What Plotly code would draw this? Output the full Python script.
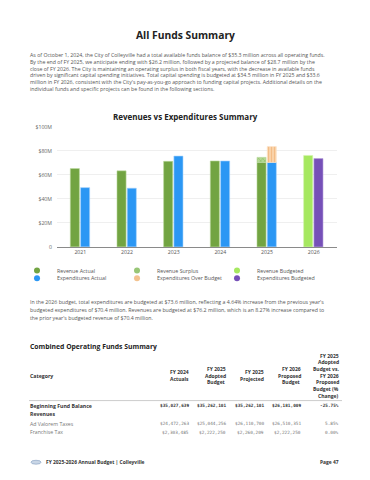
import plotly.graph_objects as go

W, H = 370, 480

# ---------------- data ----------------
years = ["2021", "2022", "2023", "2024", "2025", "2026"]
revenue_actual = [65.3, 63.4, 71.3, 71.6, 70.4, None]
revenue_surplus = [None, None, None, None, 4.2, None]
revenue_budgeted = [None, None, None, None, None, 76.2]
exp_actual = [49.4, 48.9, 75.7, 71.6, 70.4, None]
exp_over_budget = [None, None, None, None, 13.2, None]
exp_budgeted = [None, None, None, None, None, 73.6]

y_tickvals = [0, 20, 40, 60, 80, 100]
y_ticktext = ["0", "$20M", "$40M", "$60M", "$80M", "$100M"]

intro_lines = [
    "As of October 1, 2024, the City of Colleyville had a total available funds balance of $35.3 million across all operating funds.",
    "By the end of FY 2025, we anticipate ending with $26.2 million, followed by a projected balance of $28.7 million by the",
    "close of FY 2026. The City is maintaining an operating surplus in both fiscal years, with the decrease in available funds",
    "driven by significant capital spending initiatives. Total capital spending is budgeted at $34.5 million in FY 2025 and $33.6",
    "million in FY 2026, consistent with the City's pay-as-you-go approach to funding capital projects. Additional details on the",
    "individual funds and specific projects can be found in the following sections.",
]
budget_lines = [
    "In the 2026 budget, total expenditures are budgeted at $73.6 million, reflecting a 4.64% increase from the previous year's",
    "budgeted expenditures of $70.4 million. Revenues are budgeted at $76.2 million, which is an 8.27% increase compared to",
    "the prior year's budgeted revenue of $70.4 million.",
]

table_headers = [
    ["Category"],
    ["FY 2024", "Actuals"],
    ["FY 2025", "Adopted", "Budget"],
    ["FY 2025", "Projected"],
    ["FY 2026", "Proposed", "Budget"],
    ["FY 2025", "Adopted", "Budget vs.", "FY 2026", "Proposed", "Budget (%", "Change)"],
]
row_labels = ["Beginning Fund Balance", "Revenues", "Ad Valorem Taxes", "Franchise Tax"]
row_bold = [True, True, False, False]
fy2024_actuals = [35027639, None, 24472263, 2303485]
fy2025_adopted = [35262101, None, 25044256, 2222250]
fy2025_projected = [35262101, None, 26110700, 2260209]
fy2026_proposed = [26181009, None, 26510351, 2222250]
pct_change = [-25.75, None, 5.85, 0.00]

# ---------------- helpers ----------------
def px(x):
    return x / W

def py(y):
    return 1 - y / H

TXT = "#4a4a4a"
DARK = "#222222"
FONT = "Open Sans"
MONO = "DejaVu Sans Mono"

fig = go.Figure()

def base_of(vals):
    return [v if v is not None else 0 for v in vals]

GREEN = "#72a442"
BLUE = "#2b97f4"
LGREEN = "#a6e860"
PURPLE = "#7650b8"

# revenue stack (left bar)
fig.add_trace(go.Bar(x=years, y=revenue_actual, name="Revenue Actual", showlegend=False,
                     offset=-0.215, width=0.195,
                     marker=dict(color=GREEN, line=dict(color="#b9d79c", width=0.6))))
fig.add_trace(go.Bar(x=years, y=revenue_surplus, base=base_of(revenue_actual), name="Revenue Surplus",
                     showlegend=False, offset=-0.215, width=0.195,
                     marker=dict(color="#a4cf82", line=dict(color="#b9d79c", width=0.6),
                                 pattern=dict(shape="x", fgcolor="#6c9e3e", bgcolor="#b3d993", size=3, solidity=0.35))))
fig.add_trace(go.Bar(x=years, y=revenue_budgeted, name="Revenue Budgeted", showlegend=False,
                     offset=-0.215, width=0.195,
                     marker=dict(color=LGREEN, line=dict(color="#d3f5ae", width=0.6))))
# expenditure stack (right bar)
fig.add_trace(go.Bar(x=years, y=exp_actual, name="Expenditures Actual", showlegend=False,
                     offset=0.005, width=0.195,
                     marker=dict(color=BLUE, line=dict(color="#a9d4fb", width=0.6))))
fig.add_trace(go.Bar(x=years, y=exp_over_budget, base=base_of(exp_actual), name="Expenditures Over Budget",
                     showlegend=False, offset=0.005, width=0.195,
                     marker=dict(color="#f7c99b", line=dict(color="#fbe0c4", width=0.6),
                                 pattern=dict(shape="|", fgcolor="#eda664", bgcolor="#f9d2a8", size=3, solidity=0.35))))
fig.add_trace(go.Bar(x=years, y=exp_budgeted, name="Expenditures Budgeted", showlegend=False,
                     offset=0.005, width=0.195,
                     marker=dict(color=PURPLE, line=dict(color="#b8a3dc", width=0.6))))

# legend entries (circle swatches) in two single-row legends
legend_items = [
    ("Revenue Actual", GREEN, "legend"),
    ("Revenue Surplus", "#98c676", "legend"),
    ("Revenue Budgeted", LGREEN, "legend"),
    ("Expenditures Actual", BLUE, "legend2"),
    ("Expenditures Over Budget", "#f3c28f", "legend2"),
    ("Expenditures Budgeted", PURPLE, "legend2"),
]
for name, color, lg in legend_items:
    fig.add_trace(go.Scatter(x=[years[0]], y=[None], mode="markers", name=name, legend=lg,
                             marker=dict(symbol="circle", size=6, color=color)))

legend_common = dict(orientation="h", xanchor="left", yanchor="middle",
                     font=dict(family=FONT, size=5.3, color="#555555"),
                     bgcolor="rgba(0,0,0,0)", entrywidth=55, entrywidthmode="pixels",
                     itemwidth=30, itemclick=False, tracegroupgap=0)

fig.update_layout(
    width=W, height=H, autosize=False,
    margin=dict(l=0, r=0, t=0, b=0),
    paper_bgcolor="white", plot_bgcolor="white",
    barmode="overlay",
    showlegend=True,
    legend=dict(x=px(17), y=py(271), **legend_common),
    legend2=dict(x=px(17), y=py(279), **legend_common),
    xaxis=dict(domain=[px(57), px(337)], anchor="y", type="category",
               showgrid=False, showline=True, linecolor="#8a8a8a", linewidth=1,
               ticks="", tickfont=dict(family=FONT, size=5.2, color="#555555"),
               ticklabelstandoff=0, fixedrange=True),
    yaxis=dict(domain=[py(247), py(125)], anchor="x", range=[0, 100],
               tickvals=y_tickvals, ticktext=y_ticktext,
               showgrid=True, gridcolor="#efefef", gridwidth=1, zeroline=False,
               showline=False, ticks="", tickfont=dict(family=FONT, size=5.2, color="#666666"),
               ticklabelstandoff=4, fixedrange=True),
)

ann = []

def text(x, y, s, size, color=TXT, anchor="left", bold=False, family=FONT, yanchor="middle"):
    ann.append(dict(x=px(x), y=py(y), xref="paper", yref="paper", text=(f"<b>{s}</b>" if bold else s),
                    showarrow=False, xanchor=anchor, yanchor=yanchor, align="left",
                    font=dict(family=family, size=size, color=color), borderpad=0))

# titles
text(185, 32, "All Funds Summary", 10.3, DARK, "center", True)
text(28.5, 46.4, "<br>".join(intro_lines), 5.22, "#555555", yanchor="top")
text(185, 114.5, "Revenues vs Expenditures Summary", 8.0, DARK, "center", True)

for i, line in enumerate(budget_lines):
    text(28.5, 302.7 + i * 8.2, line, 5.22, "#555555")

text(28.5, 348, "Combined Operating Funds Summary", 6.8, DARK, "left", True)

# table header
col_right = [None, 190, 227, 265, 302, 339.5]
hdr_center = 378
for c, lines in enumerate(table_headers):
    n = len(lines)
    for j, l in enumerate(lines):
        yy = hdr_center + (j - (n - 1) / 2) * 6.8
        if c == 0:
            text(28.5, yy, l, 5.2, "#333333", "left", True)
        else:
            text(col_right[c], yy, l, 5.0, "#333333", "right", True)

fig.add_shape(type="line", xref="paper", yref="paper", x0=px(29), x1=px(342), y0=py(403.3), y1=py(403.3),
              line=dict(color="#cccccc", width=1))

def money(v):
    return "" if v is None else f"${v:,.0f}"

def pct(v):
    return "" if v is None else f"{v:.2f}%"

row_y = [408.7, 417.2, 427, 435.7]
cols = [fy2024_actuals, fy2025_adopted, fy2025_projected, fy2026_proposed]
for r, lab in enumerate(row_labels):
    bold = row_bold[r]
    col = "#333333" if bold else "#777777"
    text(28.5, row_y[r], lab, 5.2, col, "left", bold)
    for c, arr in enumerate(cols):
        s = money(arr[r])
        if s:
            text(col_right[c + 1], row_y[r], s, 4.4, col, "right", bold, MONO)
    s = pct(pct_change[r])
    if s:
        text(col_right[5], row_y[r], s, 4.4, col, "right", bold, MONO)

# footer
fig.add_shape(type="circle", xref="paper", yref="paper", x0=px(31), x1=px(41), y0=py(468), y1=py(464),
              fillcolor="#c9d6e6", line=dict(color="#7f9bbd", width=0.6))
text(45, 466, "FY 2025-2026 Annual Budget | Colleyville", 4.9, "#333333", "left", True)
text(340, 466, "Page 47", 4.9, "#333333", "right", True)

fig.update_layout(annotations=ann)

fig.write_html("out.html", config={"displayModeBar": False},
               post_script="document.body.style.margin='0';")
